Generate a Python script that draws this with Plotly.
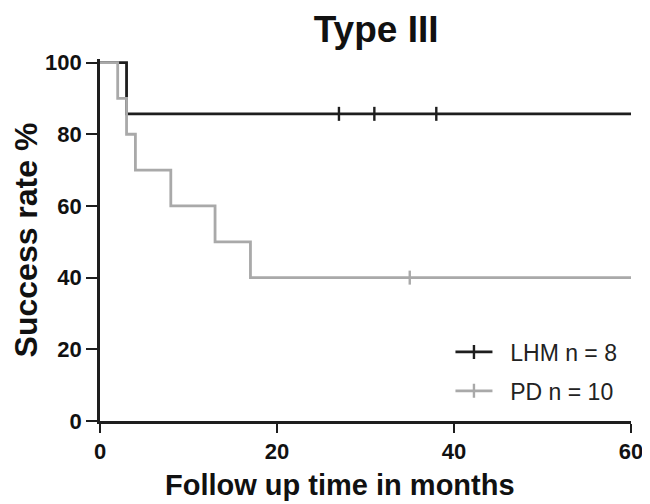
import numpy as np
import plotly.graph_objects as go

# Kaplan-Meier step data
lhm_t = [0, 3, 60]
lhm_s = [100, 85.7, 85.7]
lhm_censor_t = [27, 31, 38]

pd_t = [0, 2, 3, 4, 8, 13, 17, 60]
pd_s = [100, 90, 80, 70, 60, 50, 40, 40]
pd_censor_t = [35]

x_ticks = [0, 20, 40, 60]
y_ticks = [0, 20, 40, 60, 80, 100]

lhm_name = "LHM n = 8"
pd_name = "PD n = 10"

BLACK = "#1e1e1e"
GRAY = "#a9a9a9"
FONT = "Liberation Sans, Arial, sans-serif"
PAD = "\u00a0\u00a0"


def step_value(ts, ss, t):
    idx = np.searchsorted(ts, t, side="right") - 1
    return [ss[i] for i in np.atleast_1d(idx)]


fig = go.Figure()

series = [
    (lhm_t, lhm_s, lhm_censor_t, BLACK, lhm_name),
    (pd_t, pd_s, pd_censor_t, GRAY, pd_name),
]

for ts, ss, ct, col, name in series:
    fig.add_trace(go.Scatter(
        x=ts, y=ss, mode="lines", line=dict(color=col, width=2.8, shape="hv"),
        showlegend=False, hoverinfo="skip"))
    fig.add_trace(go.Scatter(
        x=ct, y=step_value(ts, ss, ct), mode="markers",
        marker=dict(symbol="line-ns", size=10, line=dict(color=col, width=2.4)),
        showlegend=False, cliponaxis=False, hoverinfo="skip"))

for i, (ts, ss, ct, col, name) in enumerate(series):
    fig.add_trace(go.Scatter(
        x=[None], y=[None], mode="lines+markers", name=PAD + name, legendgroup=f"g{i}",
        line=dict(color=col, width=2.8),
        marker=dict(symbol="line-ns", size=10, line=dict(color=col, width=2.4))))

fig.update_layout(
    width=650, height=504,
    margin=dict(l=92, r=27, t=51, b=91),
    paper_bgcolor="white", plot_bgcolor="white",
    font=dict(family=FONT, color="#111111"),
    title=dict(text="<b>Type III</b>", xref="paper", x=0.52, xanchor="center",
               yref="container", y=0.959, yanchor="middle",
               font=dict(size=37, family=FONT, color="#111111")),
    legend=dict(x=0.66, y=0.25, xanchor="left", yanchor="top",
                font=dict(size=23, family=FONT, color="#222222"),
                bgcolor="rgba(0,0,0,0)", tracegroupgap=6, itemwidth=37),
    annotations=[dict(text="<b>Follow up time in months</b>", xref="paper", yref="paper",
                      x=0.452, y=-0.177, xanchor="center", yanchor="middle", showarrow=False,
                      font=dict(size=29, family=FONT, color="#111111"))],
    xaxis=dict(range=[0, 60], tickvals=x_ticks, ticks="outside", ticklen=9, tickwidth=2.4,
               tickcolor=BLACK, showline=True, linecolor=BLACK, linewidth=2.6,
               showgrid=False, zeroline=False,
               tickfont=dict(size=22, family=FONT, color="#111111", weight="bold")),
    yaxis=dict(range=[0, 101], tickvals=y_ticks, ticks="outside", ticklen=11, tickwidth=2.4,
               tickcolor=BLACK, showline=True, linecolor=BLACK, linewidth=2.6,
               showgrid=False, zeroline=False,
               tickfont=dict(size=22, family=FONT, color="#111111", weight="bold"),
               title=dict(text="<b>Success rate %</b>", standoff=4,
                          font=dict(size=32, family=FONT, color="#111111"))),
)

fig.write_html("out.html")
